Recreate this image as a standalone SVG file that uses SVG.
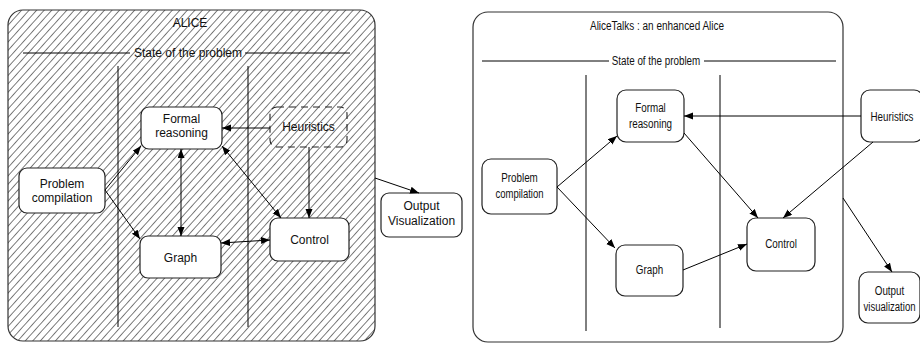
<svg xmlns="http://www.w3.org/2000/svg" width="920" height="343" viewBox="0 0 920 343">
  <style>
    .frame { fill: #fff; stroke: #333; stroke-width: 1.2; }
    .box { fill: #fff; stroke: #222; stroke-width: 1.2; }
    .dbox { fill: none; stroke: #222; stroke-width: 1.1; stroke-dasharray: 7 5; }
    .ln { stroke: #000; stroke-width: 1; fill: none; }
    .c { stroke: #000; stroke-width: 1; fill: none; }
    .t { font-family: "Liberation Sans", Arial, sans-serif; font-size: 12px; fill: #111; text-anchor: middle; }
    .n { font-family: "Liberation Sans", Arial, sans-serif; font-size: 12px; fill: #111; text-anchor: middle; }
  </style>
  <defs>
    <pattern id="hatch" patternUnits="userSpaceOnUse" width="5.6" height="5.6" patternTransform="rotate(42)">
      <line x1="0" y1="0" x2="0" y2="5.6" stroke="#111" stroke-width="1.1"/>
    </pattern>
    <marker id="ah" markerUnits="userSpaceOnUse" markerWidth="10" markerHeight="8" refX="9" refY="3.5" orient="auto-start-reverse">
      <path d="M0,0 L9,3.5 L0,7 z" fill="#000"/>
    </marker>
  </defs>

  <!-- ALICE panel -->
  <g id="alice">
    <rect x="8" y="10" width="367" height="331" rx="15" ry="15" fill="#fff"/>
    <rect x="8" y="10" width="367" height="331" rx="15" ry="15" fill="url(#hatch)" stroke="#333" stroke-width="1.2"/>
    <text class="t" x="190" y="27" font-size="11">ALICE</text>
    <line class="ln" x1="23" y1="53" x2="130" y2="53"/>
    <line class="ln" x1="245" y1="53" x2="350" y2="53"/>
    <text class="t" x="188" y="57">State of the problem</text>
    <line class="ln" x1="118" y1="66" x2="118" y2="327"/>
    <line class="ln" x1="248" y1="66" x2="248" y2="327"/>
  </g>

  <g id="a-formal">
    <rect class="box" x="141" y="107" width="81" height="42" rx="8"/>
    <text class="t" x="181.5" y="123">Formal</text>
    <text class="t" x="181.5" y="137">reasoning</text>
  </g>
  <g id="a-heuristics">
    <rect class="dbox" x="270" y="107" width="77" height="40" rx="7"/>
    <text class="t" x="308.5" y="131">Heuristics</text>
  </g>
  <g id="a-problem">
    <rect class="box" x="19" y="168" width="86" height="45" rx="8"/>
    <text class="t" x="62" y="188">Problem</text>
    <text class="t" x="62" y="202">compilation</text>
  </g>
  <g id="a-graph">
    <rect class="box" x="140" y="236" width="81" height="42" rx="8"/>
    <text class="t" x="180.5" y="262">Graph</text>
  </g>
  <g id="a-control">
    <rect class="box" x="270" y="218" width="79" height="43" rx="8"/>
    <text class="t" x="309.5" y="244">Control</text>
  </g>
  <g id="a-output">
    <rect class="box" x="381" y="193" width="81" height="44" rx="8"/>
    <text class="t" x="421.5" y="210">Output</text>
    <text class="t" x="421.5" y="225">Visualization</text>
  </g>

  <!-- AliceTalks panel -->
  <g id="alicetalks">
    <rect class="frame" x="473" y="12" width="370" height="330" rx="15" ry="15"/>
    <text class="n" x="657" y="30" textLength="134" lengthAdjust="spacingAndGlyphs">AliceTalks : an enhanced Alice</text>
    <line class="ln" x1="482" y1="61" x2="609" y2="61"/>
    <line class="ln" x1="704" y1="61" x2="836" y2="61"/>
    <text class="n" x="656" y="65" textLength="88.6" lengthAdjust="spacingAndGlyphs">State of the problem</text>
    <line class="ln" x1="586" y1="75" x2="586" y2="331"/>
    <line class="ln" x1="720" y1="75" x2="720" y2="328"/>
  </g>

  <g id="t-formal">
    <rect class="box" x="617" y="90" width="67" height="52" rx="9"/>
    <text class="n" x="650.5" y="112" textLength="30.6" lengthAdjust="spacingAndGlyphs">Formal</text>
    <text class="n" x="650.5" y="128" textLength="43.2" lengthAdjust="spacingAndGlyphs">reasoning</text>
  </g>
  <g id="t-problem">
    <rect class="box" x="482" y="159" width="75" height="55" rx="9"/>
    <text class="n" x="519.5" y="182" textLength="36.6" lengthAdjust="spacingAndGlyphs">Problem</text>
    <text class="n" x="519.5" y="198" textLength="48" lengthAdjust="spacingAndGlyphs">compilation</text>
  </g>
  <g id="t-graph">
    <rect class="box" x="616" y="245" width="67" height="51" rx="9"/>
    <text class="n" x="649.5" y="274" textLength="27.3" lengthAdjust="spacingAndGlyphs">Graph</text>
  </g>
  <g id="t-control">
    <rect class="box" x="747" y="218" width="68" height="53" rx="9"/>
    <text class="n" x="781" y="248" textLength="31.7" lengthAdjust="spacingAndGlyphs">Control</text>
  </g>
  <g id="t-heuristics">
    <rect class="box" x="861" y="90" width="62" height="52" rx="9"/>
    <text class="n" x="892" y="121" textLength="43" lengthAdjust="spacingAndGlyphs">Heuristics</text>
  </g>
  <g id="t-output">
    <rect class="box" x="859" y="272" width="61" height="51" rx="9"/>
    <text class="n" x="889.5" y="295" textLength="29.5" lengthAdjust="spacingAndGlyphs">Output</text>
    <text class="n" x="889.5" y="311" textLength="52" lengthAdjust="spacingAndGlyphs">visualization</text>
  </g>

  <!-- connectors -->
  <g id="connectors">
    <line class="c" x1="105" y1="190" x2="141" y2="146" marker-end="url(#ah)"/>
    <line class="c" x1="105" y1="190" x2="140" y2="239" marker-end="url(#ah)"/>
    <line class="c" x1="181" y1="149" x2="181" y2="236" marker-start="url(#ah)" marker-end="url(#ah)"/>
    <line class="c" x1="222" y1="146" x2="281" y2="218" marker-start="url(#ah)" marker-end="url(#ah)"/>
    <line class="c" x1="221" y1="243" x2="270" y2="240" marker-start="url(#ah)" marker-end="url(#ah)"/>
    <line class="c" x1="270" y1="128" x2="222" y2="128" marker-end="url(#ah)"/>
    <line class="c" x1="309" y1="147" x2="309" y2="218" marker-end="url(#ah)"/>
    <line class="c" x1="375" y1="178" x2="419" y2="193" marker-end="url(#ah)"/>

    <line class="c" x1="557" y1="187" x2="617" y2="136" marker-end="url(#ah)"/>
    <line class="c" x1="557" y1="187" x2="615" y2="248" marker-end="url(#ah)"/>
    <line class="c" x1="861" y1="116" x2="684" y2="116" marker-end="url(#ah)"/>
    <line class="c" x1="684" y1="133" x2="758" y2="218" marker-end="url(#ah)"/>
    <line class="c" x1="873" y1="142" x2="783" y2="218" marker-end="url(#ah)"/>
    <line class="c" x1="683" y1="270" x2="747" y2="244" marker-end="url(#ah)"/>
    <line class="c" x1="843" y1="198" x2="892" y2="272" marker-end="url(#ah)"/>
  </g>
</svg>
